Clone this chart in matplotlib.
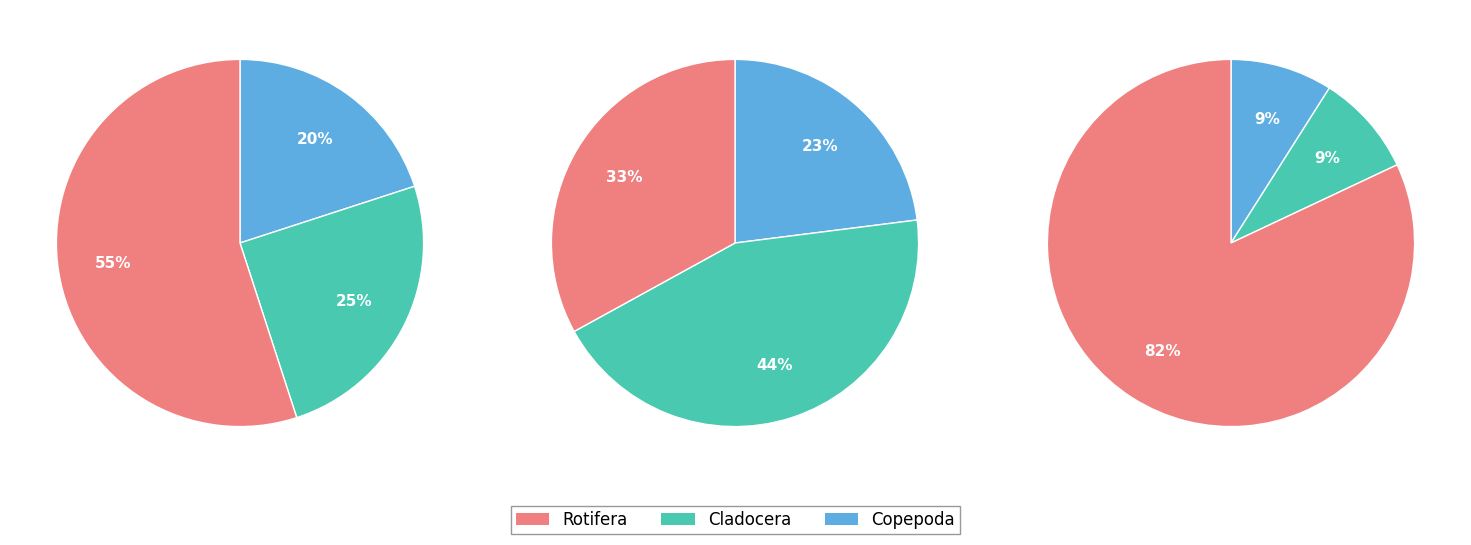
import matplotlib
matplotlib.use('Agg')
from matplotlib import pyplot as plt
from matplotlib.patches import Patch

plt.rcParams['font.family'] = 'DejaVu Sans'

# order drawn clockwise from 12 o'clock
groups = ['Copepoda', 'Cladocera', 'Rotifera']
site_a = [20, 25, 55]
site_b = [23, 44, 33]
site_c = [9, 9, 82]
colors = {'Rotifera': '#F08080', 'Cladocera': '#48C9B0', 'Copepoda': '#5DADE2'}
legend_order = ['Rotifera', 'Cladocera', 'Copepoda']

fig = plt.figure(figsize=(14.71, 5.45), dpi=100)

centers = [240, 735, 1231]
ax_h = 459
for cx, vals in zip(centers, [site_a, site_b, site_c]):
    ax = fig.add_axes([(cx - ax_h / 2) / 1471, (302 - ax_h / 2) / 545,
                       ax_h / 1471, ax_h / 545])
    wedges, texts, autotexts = ax.pie(
        vals,
        colors=[colors[g] for g in groups],
        startangle=90,
        counterclock=False,
        autopct='%1.0f%%',
        pctdistance=0.7,
        wedgeprops=dict(edgecolor='white', linewidth=1),
        textprops=dict(color='white', fontsize=11, weight='bold'),
    )
    ax.set_xlim(-1.25, 1.25)
    ax.set_ylim(-1.25, 1.25)
    ax.set_aspect('equal')
    ax.axis('off')

handles = [Patch(facecolor=colors[g], label=g) for g in legend_order]
leg = fig.legend(handles=handles, loc='center', bbox_to_anchor=(0.5, 0.046),
                 ncol=3, fontsize=12, fancybox=False, framealpha=1,
                 edgecolor='#999999', columnspacing=2.0, borderpad=0.3)

fig.savefig('out.png', dpi=100)
